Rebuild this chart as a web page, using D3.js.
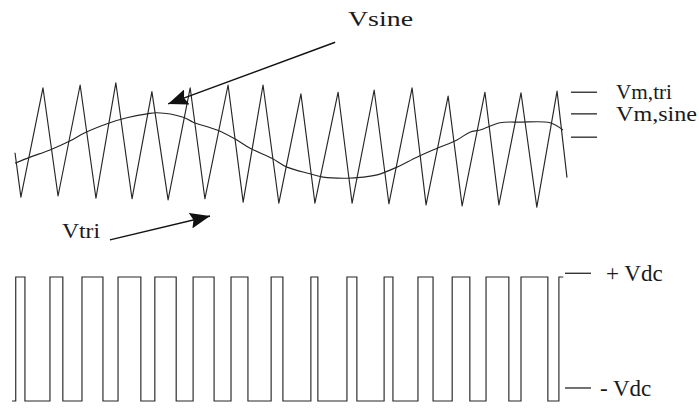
<!DOCTYPE html>
<html>
<head>
<meta charset="utf-8">
<script src="https://cdn.jsdelivr.net/npm/d3@7"></script>
<style>
  html, body { margin: 0; padding: 0; background: #fff; }
  svg { display: block; }
  text { font-family: "Liberation Serif", "DejaVu Serif", serif; fill: #1a1a1a; }
</style>
</head>
<body>
<svg id="chart" width="699" height="408"></svg>
<script>
// Time is measured in carrier periods; levels are normalised (carrier peak = 1).

// Carrier (triangle) vertices: [time, level]
const triVertices = [
  [0.00, -0.13],
  [0.16, -0.93], [0.76, 1.04],
  [1.17, -0.91], [1.77, 1.09],
  [2.20, -0.95], [2.74, 1.13],
  [3.18, -0.96], [3.72, 0.97],
  [4.16, -0.98], [4.76, 1.04],
  [5.16, -0.96], [5.79, 1.09],
  [6.20, -1.02], [6.74, 1.09],
  [7.17, -1.04], [7.77, 0.93],
  [8.15, -1.04], [8.78, 0.96],
  [9.16, -1.04], [9.76, 1.00],
  [10.16, -1.05], [10.79, 1.04],
  [11.17, -1.07], [11.77, 0.89],
  [12.15, -1.09], [12.77, 0.96],
  [13.15, -1.07], [13.75, 0.95],
  [14.18, -1.11], [14.73, 0.98],
  [15.00, -0.58]
];

// Modulating (sine) wave samples: [time, level]
const sineSamples = [
  [0.00, -0.32], [0.41, -0.21], [0.95, -0.08], [1.49, 0.08], [1.90, 0.23],
  [2.58, 0.41], [3.04, 0.50], [3.59, 0.57], [3.86, 0.59], [4.57, 0.51],
  [4.84, 0.42], [5.49, 0.28], [6.03, 0.10], [6.39, -0.05], [6.98, -0.23],
  [7.39, -0.39], [8.02, -0.51], [8.37, -0.57], [9.02, -0.59], [9.46, -0.57],
  [9.84, -0.53], [10.38, -0.39], [10.92, -0.21], [11.47, -0.05], [12.01, 0.10],
  [12.36, 0.24], [12.64, 0.28], [13.18, 0.41], [13.72, 0.42], [14.54, 0.41],
  [14.89, 0.28]
];

// PWM output: [rise time, fall time] of each positive pulse
const pwmPulses = [
  [0.02, 0.27], [0.95, 1.30], [1.82, 2.39], [2.80, 3.42], [3.80, 4.38],
  [4.84, 5.41], [5.87, 6.33], [6.96, 7.28], [8.04, 8.23], [9.02, 9.29],
  [10.03, 10.27], [10.95, 11.36], [11.88, 12.36], [12.80, 13.42], [13.75, 14.48],
  [14.78, 14.90]
];
const pwmStart = -0.08;

// Level marks on the right
const topMarks = [
  { level: 0.96, label: "Vm,tri", width: 56 },
  { level: 0.57, label: "Vm,sine", width: 81 },
  { level: 0.15, label: "", width: 0 }
];
const bottomMarks = [
  { level: 1.06, label: "+ Vdc", x: 606 },
  { level: -0.79, label: "- Vdc", x: 600 }
];

const svg = d3.select("#chart");
const ink = "#262626";

const x = d3.scaleLinear().domain([0, 15]).range([15, 567]);
const yTop = d3.scaleLinear().domain([-1, 1]).range([201, 90]);
const yBot = d3.scaleLinear().domain([-1, 1]).range([401, 277]);

// Carrier
svg.append("path")
  .datum(triVertices)
  .attr("fill", "none")
  .attr("stroke", ink)
  .attr("stroke-width", 1.15)
  .attr("stroke-linejoin", "round")
  .attr("d", d3.line().x(d => x(d[0])).y(d => yTop(d[1])));

// Modulating wave
svg.append("path")
  .datum(sineSamples)
  .attr("fill", "none")
  .attr("stroke", ink)
  .attr("stroke-width", 1.15)
  .attr("d", d3.line().x(d => x(d[0])).y(d => yTop(d[1])).curve(d3.curveCatmullRom));

// PWM square wave built from pulse edges
const pwmPoints = [[pwmStart, -1]];
pwmPulses.forEach(([r, f], i) => {
  pwmPoints.push([r, -1], [r, 1], [f, 1]);
  if (i < pwmPulses.length - 1) pwmPoints.push([f, -1]);
});
svg.append("path")
  .datum(pwmPoints)
  .attr("fill", "none")
  .attr("stroke", ink)
  .attr("stroke-width", 1.15)
  .attr("d", d3.line().x(d => x(d[0])).y(d => yBot(d[1])));

// Level marks and labels
svg.selectAll(".tmark").data(topMarks).join("line")
  .attr("x1", 571).attr("x2", 597)
  .attr("y1", d => yTop(d.level)).attr("y2", d => yTop(d.level))
  .attr("stroke", ink).attr("stroke-width", 1.3);
svg.selectAll(".tlab").data(topMarks.filter(d => d.label)).join("text")
  .attr("x", 616)
  .attr("y", d => yTop(d.level) + 7)
  .attr("font-size", 21)
  .attr("textLength", d => d.width)
  .attr("lengthAdjust", "spacingAndGlyphs")
  .text(d => d.label);

svg.selectAll(".bmark").data(bottomMarks).join("line")
  .attr("x1", 565).attr("x2", 591)
  .attr("y1", d => yBot(d.level)).attr("y2", d => yBot(d.level))
  .attr("stroke", ink).attr("stroke-width", 1.3);
svg.selectAll(".blab").data(bottomMarks).join("text")
  .attr("x", d => d.x)
  .attr("y", d => yBot(d.level) + 8)
  .attr("font-size", 23)
  .text(d => d.label);

// Arrow annotations
const defs = svg.append("defs");
defs.append("marker")
  .attr("id", "head")
  .attr("viewBox", "0 0 20 16")
  .attr("refX", 20).attr("refY", 8)
  .attr("markerWidth", 20).attr("markerHeight", 16)
  .attr("markerUnits", "userSpaceOnUse")
  .attr("orient", "auto")
  .append("path")
  .attr("d", "M0,0 L20,8 L0,16 L3,8 Z")
  .attr("fill", "#111");

const arrows = [
  { from: [8.70, 1.86], to: [4.16, 0.75] },
  { from: [2.58, -1.70], to: [5.30, -1.27] }
];
svg.selectAll(".arrow").data(arrows).join("line")
  .attr("x1", d => x(d.from[0])).attr("y1", d => yTop(d.from[1]))
  .attr("x2", d => x(d.to[0])).attr("y2", d => yTop(d.to[1]))
  .attr("stroke", "#111").attr("stroke-width", 1.4)
  .attr("marker-end", "url(#head)");

svg.append("text")
  .attr("x", 348).attr("y", 26)
  .attr("font-size", 21)
  .attr("textLength", 65)
  .attr("lengthAdjust", "spacingAndGlyphs")
  .text("Vsine");
svg.append("text")
  .attr("x", 62).attr("y", 238)
  .attr("font-size", 20)
  .attr("textLength", 38)
  .attr("lengthAdjust", "spacingAndGlyphs")
  .text("Vtri");
</script>
</body>
</html>
